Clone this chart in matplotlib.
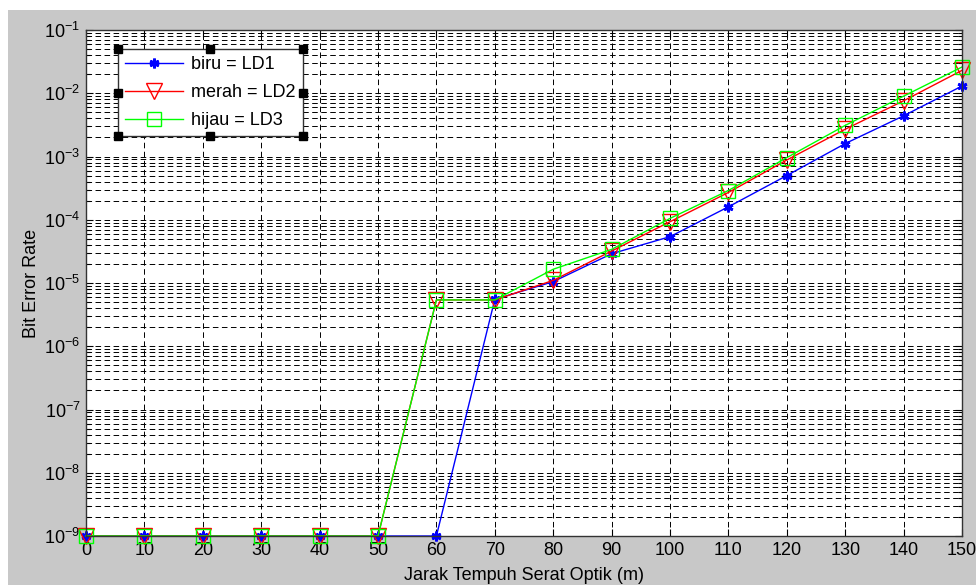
import numpy as np
import matplotlib
matplotlib.use("Agg")
from matplotlib import pyplot as plt
from matplotlib.patches import Rectangle

plt.rcParams['font.family'] = ['Liberation Sans', 'DejaVu Sans']
plt.rcParams['lines.scale_dashes'] = False

jarak = [0, 10, 20, 30, 40, 50, 60, 70, 80, 90, 100, 110, 120, 130, 140, 150]
ber_ld1 = [1e-9, 1e-9, 1e-9, 1e-9, 1e-9, 1e-9, 1e-9, 5.5e-6, 1.05e-5, 2.9e-5,
           5.4e-5, 1.6e-4, 5.0e-4, 1.6e-3, 4.4e-3, 1.3e-2]
ber_ld2 = [1e-9, 1e-9, 1e-9, 1e-9, 1e-9, 1e-9, 5.4e-6, 5.4e-6, 1.1e-5, 3.2e-5,
           9.3e-5, 2.7e-4, 8.8e-4, 2.7e-3, 7.6e-3, 2.3e-2]
ber_ld3 = [1e-9, 1e-9, 1e-9, 1e-9, 1e-9, 1e-9, 5.4e-6, 5.4e-6, 1.65e-5, 3.4e-5,
           1.05e-4, 2.9e-4, 9.6e-4, 3.1e-3, 9.0e-3, 2.6e-2]
labels = ['biru = LD1', 'merah = LD2', 'hijau = LD3']

fig = plt.figure(figsize=(9.76, 5.85), dpi=100)
fig.patch.set_facecolor('white')
# grey MATLAB figure background
fig.add_artist(Rectangle((8 / 976, 0), 1, 575 / 585, transform=fig.transFigure,
                         facecolor='#c8c8c8', edgecolor='none', zorder=-10))

ax = fig.add_axes([86 / 976, 49 / 585, 876 / 976, 506 / 585])
ax.set_facecolor('white')

ax.semilogy(jarak, ber_ld1, '-', color='#0000ff', marker=(6, 2, 0), ms=7, mew=2,
            lw=1, label=labels[0], clip_on=False)
ax.semilogy(jarak, ber_ld2, '-', color='#ff0000', marker='v', ms=11, lw=1,
            mfc='none', mew=1, label=labels[1], clip_on=False)
ax.semilogy(jarak, ber_ld3, '-', color='#00ff00', marker='s', ms=10, lw=1,
            mfc='none', mew=1, label=labels[2], clip_on=False)

ax.set_xlim(0, 150)
ax.set_ylim(1e-9, 1e-1)
ax.set_xticks(np.arange(0, 151, 10))
yt = [10.0 ** k for k in range(-9, 0)]
ax.set_yticks(yt)
ax.set_yticklabels([r'$\mathregular{10^{%d}}$' % k for k in range(-9, 0)])
ax.yaxis.set_minor_locator(matplotlib.ticker.LogLocator(base=10, subs=np.arange(2, 10), numticks=100))
ax.yaxis.set_minor_formatter(matplotlib.ticker.NullFormatter())

ax.grid(True, which='major', color='black', linestyle=(0, (4, 2.5)), lw=0.7)
ax.grid(True, which='minor', axis='y', color='black', linestyle=(0, (4, 2.5)), lw=0.7)
ax.tick_params(which='both', direction='in', top=True, right=True, labelsize=13,
               colors='black', pad=4)
ax.tick_params(which='major', length=5, width=0.8)
ax.tick_params(which='minor', length=3, width=0.8)
for s in ax.spines.values():
    s.set_linewidth(1)
    s.set_color('#333333')

ax.set_xlabel('Jarak Tempuh Serat Optik (m)', fontsize=13, labelpad=6)
ax.set_ylabel('Bit Error Rate', fontsize=13, labelpad=3)

leg = ax.legend(loc='upper left', bbox_to_anchor=(32 / 876, 1 - 19 / 506),
                fontsize=13, handlelength=3.2, fancybox=False, framealpha=1,
                edgecolor='#333333', borderpad=0.4, labelspacing=0.6,
                handletextpad=0.45, borderaxespad=0)
leg.get_frame().set_linewidth(1)

# selection handles around the legend box
fig.canvas.draw()
bb = leg.get_window_extent().transformed(fig.transFigure.inverted())
hx = [bb.x0, (bb.x0 + bb.x1) / 2, bb.x1]
hy = [bb.y0, (bb.y0 + bb.y1) / 2, bb.y1]
for px in hx:
    for py in hy:
        if px == hx[1] and py == hy[1]:
            continue
        fig.add_artist(plt.Line2D([px], [py], marker='s', ms=5.5, color='black',
                                  transform=fig.transFigure, zorder=20))

fig.savefig('out.png', dpi=100)
